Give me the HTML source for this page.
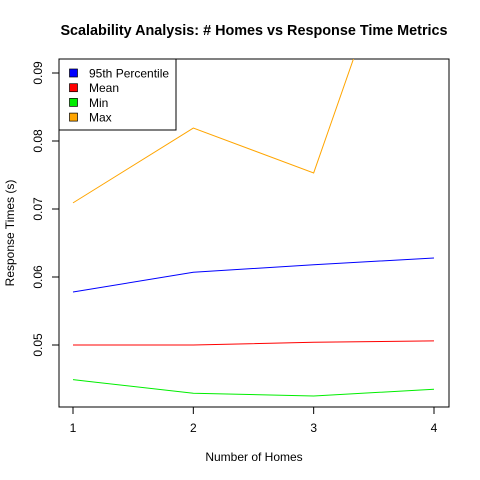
<!DOCTYPE html>
<html><head><meta charset="utf-8"><style>
body{margin:0;background:#fff}
svg{display:block;font-family:"Liberation Sans",Arial,sans-serif}
</style></head><body>
<svg id="chart" width="480" height="480">
<defs><clipPath id="plotclip"><rect x="59" y="59" width="390" height="348"/></clipPath></defs>
<text x="254" y="35" text-anchor="middle" font-size="14.4" font-weight="bold">Scalability Analysis: # Homes vs Response Time Metrics</text>
<rect x="59" y="59" width="390" height="348" fill="none" stroke="#000"/>
<g id="xaxis"></g>
<g id="yaxis"></g>
<text x="254" y="461" text-anchor="middle" font-size="12">Number of Homes</text>
<text transform="translate(14,233) rotate(-90)" text-anchor="middle" font-size="12">Response Times (s)</text>
<g id="series" clip-path="url(#plotclip)"></g>
<g id="legend"></g>
</svg>
<script>
const homes = [1, 2, 3, 4];
const p95 = [0.0578, 0.0607, 0.0618, 0.0628];
const meanVals = [0.0500, 0.0500, 0.0504, 0.0506];
const minVals = [0.0449, 0.0429, 0.0425, 0.0435];
const maxVals = [0.0709, 0.0819, 0.0753, 0.126];
const xTicks = [1, 2, 3, 4];
const yTicks = [0.05, 0.06, 0.07, 0.08, 0.09];
const seriesNames = ["95th Percentile", "Mean", "Min", "Max"];
const seriesColors = ["blue", "red", "#00ee00", "orange"];

const NS = "http://www.w3.org/2000/svg";
function xs(v){ return 73 + (v - 1) * 120.33; }
function ys(v){ return 345 - (v - 0.05) * 6800; }
function mk(tag, attrs, parent){ const e = document.createElementNS(NS, tag); for (const k in attrs) e.setAttribute(k, attrs[k]); parent.appendChild(e); return e; }

const xa = document.getElementById("xaxis");
mk("line", {x1: xs(1), x2: xs(4), y1: 407, y2: 407, stroke: "#000"}, xa);
xTicks.forEach(t => {
  const l = mk("line", {x1: xs(t), x2: xs(t), y1: 407, y2: 414, stroke: "#000"}, xa);
  
  
  const tx = mk("text", {x: xs(t), y: 432, "text-anchor": "middle", "font-size": 12}, xa);
  tx.textContent = t;
  
  
});
const ya = document.getElementById("yaxis");
mk("line", {x1: 59, x2: 59, y1: ys(0.05), y2: ys(0.09), stroke: "#000"}, ya);
yTicks.forEach(t => {
  const l = mk("line", {x1: 52, x2: 59, y1: ys(t), y2: ys(t), stroke: "#000"}, ya);
  
  
  const tx = mk("text", {transform: `translate(42,${ys(t)}) rotate(-90)`, "text-anchor": "middle", "font-size": 12}, ya);
  tx.textContent = t.toFixed(2);
  
  
});

const sg = document.getElementById("series");
[p95, meanVals, minVals, maxVals].forEach((arr, i) => {
  const pl = mk("polyline", {points: arr.map((v, j) => xs(homes[j]) + "," + ys(v)).join(" "), fill: "none", stroke: seriesColors[i], "stroke-width": 1}, sg);
  
  
});

const lg = document.getElementById("legend");
mk("rect", {x: 59, y: 59, width: 117, height: 71, fill: "#fff", stroke: "#000"}, lg);
seriesNames.forEach((n, i) => {
  const y = 73 + i * 14.7;
  const r = mk("rect", {x: 69.5, y: y - 4, width: 8, height: 8, fill: seriesColors[i], stroke: "#000", "stroke-width": 0.7}, lg);
  
  
  const t = mk("text", {x: 89, y: y + 4.5, "font-size": 12}, lg);
  t.textContent = n;
  
  
});
</script>
</body></html>
